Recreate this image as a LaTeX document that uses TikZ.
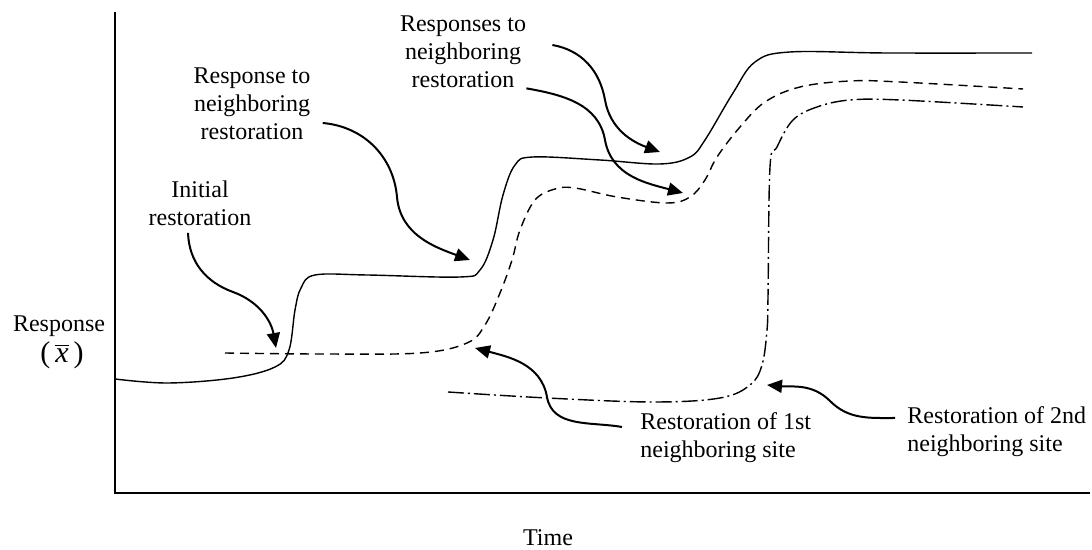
\documentclass[tikz,border=0pt]{standalone}
\usepackage{fontspec}
\setmainfont{Liberation Serif}
\usetikzlibrary{arrows.meta,positioning}

\begin{document}
\begin{tikzpicture}[x=0.5pt, y=0.5pt,
  lbl/.style={inner sep=0pt, font=\fontsize{12}{14}\selectfont, align=center},
  curve/.style={line width=0.7pt},
  pointer/.style={line width=1pt, -{Triangle[length=7.5pt,width=6.5pt]}}
]
  \useasboundingbox (0,0) rectangle (1092,550);

  % axes
  \draw[line width=1pt] (115,538) -- (115,57) -- (1090,57);

  % responses
  \draw[curve] plot[smooth, tension=0.6] coordinates {(115,171) (168,167) (233,172) (275,183)
    (289,200) (295,240) (301,262) (315,275) (367,275) (460,273) (480,280) (493,310) (503,355)
    (515,385) (533,393) (600,390) (660,386) (690,393) (705,410) (733,457) (755,488) (790,498)
    (887,497) (1032,497)};
  \draw[curve, dash pattern=on 4.5pt off 3pt] plot[smooth, tension=0.6] coordinates {(225,197)
    (320,196) (420,197) (467,207) (485,225) (500,257) (512,290) (520,320) (535,350) (555,361)
    (575,362) (617,353) (667,347) (690,353) (705,370) (717,393) (740,423) (765,448) (800,463)
    (850,469) (900,468) (1023,461)};
  \draw[curve, dash pattern=on 8pt off 2pt on 1pt off 2pt] plot[smooth, tension=0.6] coordinates
    {(448,158) (547,152) (653,148) (720,152) (750,165) (762,185) (767,220) (768,253) (770,383)
    (777,403) (793,430) (817,443) (850,450) (900,450) (1023,443)};

  % labels
  \node[lbl] (ylab) at (59,224) {Response};
  \node[lbl, font=\fontsize{15}{17}\selectfont] (ysym) at (62,195) {(\,$\overline{\textit{x}}$\,)};
  \node[lbl] (time) at (548,12) {Time};
  \node[lbl] (init) at (200,347) {Initial\\restoration};
  \node[lbl] (resp1) at (252,446) {Response to\\neighboring\\restoration};
  \node[lbl] (resp2) at (463,498) {Responses to\\neighboring\\restoration};
  \node[lbl, align=left, anchor=west] (site1) at (640,112) {Restoration of 1st\\neighboring site};
  \node[lbl, align=left, anchor=west] (site2) at (907,118) {Restoration of 2nd\\neighboring site};

  % arrow tips
  \coordinate (tipInit) at (276,202);
  \coordinate (tipResp1) at (470,290);
  \coordinate (tipResp2a) at (660,398);
  \coordinate (tipResp2b) at (683,357);
  \coordinate (tipSite1) at (475,202);
  \coordinate (tipSite2) at (767,165);

  \draw[pointer] ([shift={(-12,-7)}]init.south) to[out=-88,in=160] (233,258) to[out=-20,in=100] (tipInit);
  \draw[pointer] ([shift={(12,-19)}]resp1.east) to[out=-5,in=95] (397,353) to[out=-85,in=160] (tipResp1);
  \draw[pointer] ([shift={(26,7)}]resp2.east) to[out=-10,in=100] (605,450) to[out=-80,in=160] (tipResp2a);
  \draw[pointer] (resp2.south east) to[out=-10,in=100] (605,410) to[out=-80,in=165] (tipResp2b);
  \draw[pointer] ([shift={(-18,11)}]site1.west) to[out=170,in=-80] (547,153) to[out=100,in=-15] (tipSite1);
  \draw[pointer] ([shift={(-12,14)}]site2.west) to[out=180,in=-45] (830,149) to[out=135,in=-5] (tipSite2);
\end{tikzpicture}
\end{document}
